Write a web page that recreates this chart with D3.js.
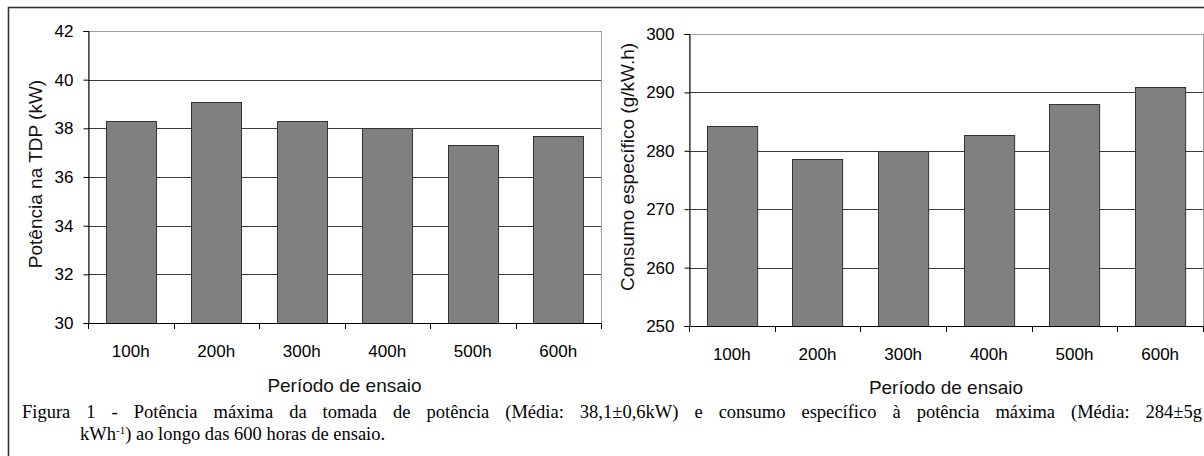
<!DOCTYPE html>
<html>
<head>
<meta charset="utf-8">
<script src="https://cdn.jsdelivr.net/npm/d3@7"></script>
<style>
  html, body { margin: 0; padding: 0; background: #fff; }
  svg { display: block; }
  .tick-label { font-family: Arial, "Liberation Sans", sans-serif; font-size: 17px; fill: #000; }
  .axis-title { font-family: Arial, "Liberation Sans", sans-serif; font-size: 19px; fill: #111; }
  .caption { font-family: "Times New Roman", "Liberation Serif", serif; font-size: 18.5px; fill: #000; }
</style>
</head>
<body>
<svg id="chart" width="1204" height="456"></svg>
<script>
// data
const periods = ['100h', '200h', '300h', '400h', '500h', '600h'];
const potencia = [38.3, 39.1, 38.3, 38.0, 37.3, 37.7];   // kW
const consumo = [284.2, 278.6, 280.0, 282.7, 288.0, 291.0]; // g/kW.h
const potTicks = [30, 32, 34, 36, 38, 40, 42];
const consTicks = [250, 260, 270, 280, 290, 300];

const svg = d3.select('#chart');

// outer frame of the figure (runs off the right and bottom edge)
svg.append('rect')
    .attr('x', 8.5).attr('y', 7.5)
    .attr('width', 1210).attr('height', 470)
    .attr('fill', 'none')
    .attr('stroke', '#333')
    .attr('stroke-width', 1.6);

function drawPanel(opts) {
    const { left, right, top, bottom, values, ticks, yTitle, titleSize, titleX, titleY, xTitleY } = opts;
    const g = svg.append('g');

    const x = d3.scaleBand()
        .domain(periods)
        .range([left, right])
        .paddingInner(0.415)
        .paddingOuter(0.2075);

    const y = d3.scaleLinear()
        .domain([ticks[0], ticks[ticks.length - 1]])
        .range([bottom, top]);

    // plot area border (grey, top and right)
    g.append('rect')
        .attr('x', left + 0.5).attr('y', y(ticks[ticks.length - 1]) + 0.5)
        .attr('width', right - left).attr('height', bottom - top)
        .attr('fill', 'none')
        .attr('stroke', '#a0a0a0')
        .attr('stroke-width', 1);

    // gridlines
    g.selectAll('.grid')
        .data(ticks.slice(1, -1))
        .join('line')
        .attr('x1', left).attr('x2', right)
        .attr('y1', d => Math.round(y(d)) + 0.5)
        .attr('y2', d => Math.round(y(d)) + 0.5)
        .attr('stroke', '#3a3a3a')
        .attr('stroke-width', 1);

    // bars
    g.selectAll('.bar')
        .data(values)
        .join('rect')
        .attr('x', (d, i) => Math.round(x(periods[i])) + 0.5)
        .attr('y', d => Math.round(y(d)) + 0.5)
        .attr('width', x.bandwidth())
        .attr('height', d => y(ticks[0]) - Math.round(y(d)))
        .attr('fill', '#808080')
        .attr('stroke', '#333')
        .attr('stroke-width', 1);

    // y axis
    const yAxis = d3.axisLeft(y)
        .tickValues(ticks)
        .tickSize(5)
        .tickPadding(10)
        .tickFormat(d3.format('d'));
    const ya = g.append('g')
        .attr('transform', `translate(${left + 0.5},0)`)
        .call(yAxis);
    ya.attr('font-size', null).attr('font-family', null);
    ya.select('.domain').attr('stroke', '#000');
    ya.selectAll('.tick line').attr('stroke', '#000');
    ya.selectAll('.tick text').attr('class', 'tick-label');

    // x axis: ticks at band boundaries, labels centred
    const bounds = d3.range(periods.length + 1).map(i => left + i * x.step());
    g.append('line')
        .attr('x1', left).attr('x2', right)
        .attr('y1', Math.round(bottom) + 0.5).attr('y2', Math.round(bottom) + 0.5)
        .attr('stroke', '#000');
    g.selectAll('.xtick')
        .data(bounds)
        .join('line')
        .attr('x1', d => Math.round(d) + 0.5).attr('x2', d => Math.round(d) + 0.5)
        .attr('y1', Math.round(bottom)).attr('y2', Math.round(bottom) + 6)
        .attr('stroke', '#000');
    g.selectAll('.xlab')
        .data(periods)
        .join('text')
        .attr('class', 'tick-label')
        .attr('x', d => x(d) + x.bandwidth() / 2)
        .attr('y', bottom + 34)
        .attr('text-anchor', 'middle')
        .text(d => d);

    // axis titles
    g.append('text')
        .attr('class', 'axis-title')
        .attr('x', (left + right) / 2)
        .attr('y', xTitleY)
        .attr('text-anchor', 'middle')
        .text('Período de ensaio');

    g.append('text')
        .attr('class', 'axis-title')
        .attr('font-size', titleSize)
        .attr('transform', `translate(${titleX},${titleY}) rotate(-90)`)
        .attr('text-anchor', 'middle')
        .text(yTitle);
}

drawPanel({
    left: 88, right: 601, top: 31, bottom: 323,
    values: potencia, ticks: potTicks,
    yTitle: 'Potência na TDP (kW)', titleSize: 19,
    titleX: 42, titleY: 174, xTitleY: 392
});

drawPanel({
    left: 689, right: 1203, top: 34, bottom: 326,
    values: consumo, ticks: consTicks,
    yTitle: 'Consumo específico (g/kW.h)', titleSize: 20,
    titleX: 634, titleY: 167, xTitleY: 394
});

// caption, first line justified with word spacing
const line1Text = 'Figura 1 - Potência máxima da tomada de potência (Média: 38,1±0,6kW) e consumo específico à potência máxima (Média: 284±5g';
const line1 = svg.append('text')
    .attr('class', 'caption')
    .attr('x', 22).attr('y', 418)
    .text(line1Text);
const natural = line1.node().getComputedTextLength();
const gaps = line1Text.split(' ').length - 1;
line1.attr('word-spacing', ((1202 - 22) - natural) / gaps);

const line2 = svg.append('text')
    .attr('class', 'caption')
    .attr('x', 80).attr('y', 440);
line2.append('tspan').text('kWh');
line2.append('tspan').attr('font-size', 11).attr('dy', -6).text('-1');
line2.append('tspan').attr('dy', 6).text(') ao longo das 600 horas de ensaio.');
</script>
</body>
</html>
